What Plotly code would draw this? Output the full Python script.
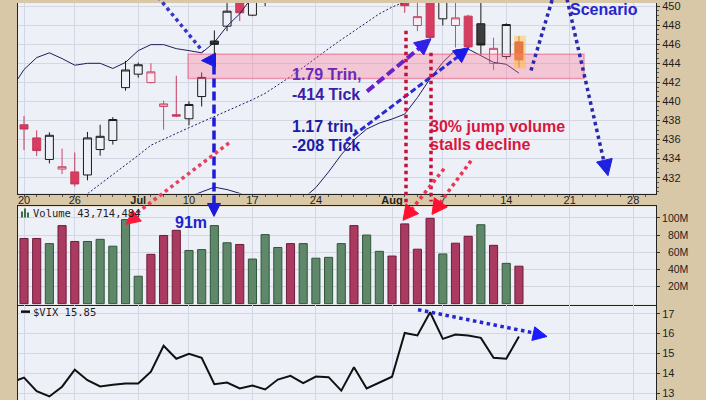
import math
import pandas as pd
import plotly.graph_objects as go
from plotly.subplots import make_subplots

# ---------------------------------------------------------------- sessions
HOLIDAYS = {"2023-06-19", "2023-07-04"}
sessions = [d.strftime("%Y-%m-%d") for d in pd.bdate_range("2023-06-16", "2023-09-01")
            if d.strftime("%Y-%m-%d") not in HOLIDAYS]
pos = {d: i for i, d in enumerate(sessions)}
last_day = "2023-08-15"
band_dates = sessions[: pos[last_day] + 1]      # Jun 16 .. Aug 15
candle_dates = band_dates[1:]                   # Jun 20 .. Aug 15

tick_dates = ["2023-06-20", "2023-06-26", "2023-07-03", "2023-07-10", "2023-07-17",
              "2023-07-24", "2023-08-01", "2023-08-07", "2023-08-14", "2023-08-21",
              "2023-08-28"]
tick_text = ["20", "26", "<b>Jul</b>", "10", "17", "24", "<b>Aug</b>", "7", "14", "21", "28"]

# ---------------------------------------------------------------- SPY daily
close_jun16 = 439.46
spy_open = [437.55, 436.17, 433.91, 432.90, 432.60, 432.28, 434.95, 435.90, 441.45, 442.86,
            441.97, 439.47, 438.60, 438.18, 440.51, 446.34, 447.90, 451.00, 449.05, 452.30,
            453.80, 454.50, 453.20, 453.40, 454.00, 455.00, 457.20, 454.20, 456.80, 457.40,
            453.20, 447.97, 451.20, 448.67, 447.97, 448.95, 448.15, 443.98, 444.71, 446.24]
spy_high = [438.46, 436.97, 436.76, 435.05, 434.64, 436.80, 437.55, 438.35, 444.26, 444.08,
            444.00, 440.09, 442.70, 440.00, 443.04, 447.45, 450.50, 451.60, 452.60, 454.20,
            455.60, 455.00, 454.50, 455.00, 455.80, 456.20, 457.80, 457.00, 458.00, 458.10,
            455.00, 450.80, 451.80, 451.40, 450.90, 449.10, 451.00, 446.69, 448.20, 446.86]
spy_low = [434.90, 434.26, 433.49, 432.38, 431.06, 431.72, 434.30, 435.47, 441.13, 442.50,
           441.90, 437.03, 438.35, 437.49, 439.47, 444.78, 447.38, 448.43, 448.95, 450.00,
           452.80, 452.00, 452.20, 452.80, 453.60, 454.40, 451.80, 453.90, 456.40, 455.50,
           449.30, 447.38, 446.60, 447.97, 445.65, 445.65, 444.90, 443.28, 444.43, 443.56]
spy_close = [437.10, 434.84, 436.45, 433.15, 431.34, 436.17, 436.34, 438.10, 443.30, 443.85,
             443.10, 439.74, 438.46, 439.68, 442.52, 445.99, 449.47, 449.30, 452.00, 453.50,
             454.80, 452.90, 453.60, 454.40, 455.20, 455.70, 452.60, 456.60, 457.60, 456.30,
             450.05, 448.90, 446.72, 450.90, 448.77, 445.72, 445.92, 445.57, 448.07, 444.36]

# Bollinger Bands (20, 2.0), Jun 16 .. Aug 15
bb_upper = [441.30, 443.35, 444.60, 445.10, 444.50, 443.80, 444.00, 444.00, 443.46, 444.10,
            445.33, 445.96, 445.96, 445.54, 445.33, 445.10, 446.20, 447.90, 449.20, 451.00,
            452.00, 452.80, 453.50, 454.20, 454.90, 455.50, 456.00, 456.60, 457.20, 457.80,
            458.20, 458.50, 458.70, 458.80, 458.80, 458.70, 458.60, 458.40, 458.20, 458.00,
            457.80]
bb_middle = [425.00, 425.80, 426.60, 427.40, 428.20, 429.30, 430.30, 431.30, 432.30, 433.35,
             434.34, 435.40, 436.06, 436.64, 437.24, 437.83, 438.35, 438.98, 439.60, 440.18,
             440.85, 441.70, 442.60, 443.56, 444.60, 445.54, 446.48, 447.40, 448.35, 449.20,
             449.90, 450.50, 451.00, 451.40, 451.70, 451.90, 452.00, 452.10, 452.10, 452.00,
             451.90]
bb_lower = [428.00, 427.60, 427.20, 426.80, 426.40, 426.20, 426.10, 426.30, 426.60, 427.00,
            427.60, 428.40, 429.10, 429.60, 430.00, 430.50, 431.00, 430.75, 430.35, 429.80,
            429.30, 429.00, 429.20, 429.80, 430.96, 432.60, 434.40, 435.96, 437.10, 437.73,
            438.15, 438.67, 440.40, 442.40, 444.10, 445.40, 445.50, 444.80, 444.10, 443.90,
            442.97]

# volume, millions of shares
volume_m = [76.0, 76.0, 70.0, 91.0, 72.5, 72.5, 75.0, 67.0, 98.0, 32.0,
            57.5, 79.5, 85.5, 62.0, 63.0, 91.0, 71.0, 69.0, 52.0, 80.5,
            65.5, 70.0, 70.0, 53.0, 54.0, 70.0, 91.0, 80.0, 61.0, 55.5,
            93.0, 63.5, 99.5, 58.0, 70.5, 78.5, 92.0, 68.0, 47.0, 43.714484]

# $VIX close, Jun 16 .. Aug 15
vix = [13.54, 13.78, 13.10, 12.83, 13.32, 14.18, 13.65, 13.33, 13.42, 13.48,
       13.48, 14.08, 15.38, 14.73, 14.98, 14.78, 13.45, 13.53, 13.23, 13.38,
       13.18, 13.68, 13.87, 13.50, 13.83, 13.80, 13.12, 14.30, 13.23, 13.52,
       13.82, 16.03, 15.90, 17.07, 15.73, 15.95, 15.90, 15.78, 14.78, 14.73,
       15.85]

price_ticks = [432, 434, 436, 438, 440, 442, 444, 446, 448, 450]
volume_ticks = [20, 40, 60, 80, 100]
vix_ticks = [13, 14, 15, 16, 17]

# ---------------------------------------------------------------- styling
W, H = 706, 400
ML, MR = 18, 50
BEIGE = "#d8c8a8"
PLOT_BG = "#eef0f7"
GRID = "#d3d6e3"
AXIS_LINE = "#222222"
TICK_FONT = dict(family="Liberation Sans", size=11, color="#1e1e1e")
X_RANGE = [0.527, 50.80]

fig = make_subplots(rows=3, cols=1, shared_xaxes=True, vertical_spacing=0)

prev_close = [close_jun16] + spy_close[:-1]
up_day = [c >= p for c, p in zip(spy_close, prev_close)]
cx = [pos[d] for d in candle_dates]
bx = [pos[d] for d in band_dates]


def subset(flag):
    idx = [i for i, u in enumerate(up_day) if u == flag]
    return dict(x=[cx[i] for i in idx],
                open=[spy_open[i] for i in idx], high=[spy_high[i] for i in idx],
                low=[spy_low[i] for i in idx], close=[spy_close[i] for i in idx])


# Bollinger Bands
for values, dash in ((bb_upper, "solid"), (bb_lower, "solid"), (bb_middle, "2px,2px")):
    fig.add_trace(go.Scatter(x=bx, y=values, mode="lines", hoverinfo="skip", showlegend=False,
                             line=dict(color="#1d1d5e", width=1, dash=dash)), row=1, col=1)

# candles: black when the close is above the prior close, red otherwise;
# hollow when close > open, filled when close < open
fig.add_trace(go.Candlestick(**subset(True), whiskerwidth=0, showlegend=False, hoverinfo="skip",
                             increasing=dict(line=dict(color="#1a1a1a", width=1), fillcolor=PLOT_BG),
                             decreasing=dict(line=dict(color="#1a1a1a", width=1), fillcolor="#3d3d3d")),
              row=1, col=1)
fig.add_trace(go.Candlestick(**subset(False), whiskerwidth=0, showlegend=False, hoverinfo="skip",
                             increasing=dict(line=dict(color="#c94a6c", width=1), fillcolor="#f8eef3"),
                             decreasing=dict(line=dict(color="#c23a5c", width=1), fillcolor="#d83c60")),
              row=1, col=1)

# volume
vol_fill = ["#5f8769" if u else "#aa3a60" for u in up_day]
vol_edge = ["#2f5638" if u else "#6e1c3a" for u in up_day]
fig.add_trace(go.Bar(x=cx, y=volume_m, width=0.64, hoverinfo="skip", showlegend=False,
                     marker=dict(color=vol_fill, line=dict(color=vol_edge, width=1))),
              row=2, col=1)

# $VIX
fig.add_trace(go.Scatter(x=bx, y=vix, mode="lines", hoverinfo="skip", showlegend=False,
                         line=dict(color="#111111", width=2)), row=3, col=1)

tickvals = [pos[d] for d in tick_dates]
common_x = dict(range=X_RANGE, tickmode="array", tickvals=tickvals, showgrid=True,
                gridcolor=GRID, gridwidth=1, zeroline=False, linecolor=AXIS_LINE, linewidth=1)
fig.update_layout(
    xaxis=dict(**common_x, ticktext=tick_text, showticklabels=True, ticks="outside", ticklen=2,
               tickcolor="#444", tickfont=TICK_FONT, showline=True, mirror=False,
               ticklabelstandoff=-6, ticklabeloverflow="allow",
               rangeslider=dict(visible=False),
               minor=dict(dtick=1, tick0=0, ticks="outside", ticklen=2, tickcolor="#555",
                          showgrid=False)),
    xaxis2=dict(**common_x, showticklabels=False, ticks="", showline=True, mirror=True),
    xaxis3=dict(**common_x, showticklabels=False, ticks="", showline=False),
    yaxis=dict(domain=[0.52, 1.0], range=[430.33, 450.33], side="right", tickmode="array",
               tickvals=price_ticks, ticktext=[str(v) for v in price_ticks],
               ticks="outside", ticklen=3, tickcolor="#333", tickfont=TICK_FONT,
               ticklabeloverflow="allow",
               showgrid=True, gridcolor=GRID, zeroline=False, showline=True, mirror=True,
               linecolor=AXIS_LINE, linewidth=1,
               minor=dict(dtick=0.5, tick0=0, ticks="outside", ticklen=2, tickcolor="#555",
                          showgrid=False)),
    yaxis2=dict(domain=[0.24, 0.4875], range=[-1.2, 113.3], side="right", tickmode="array",
                tickvals=volume_ticks,
                ticktext=[("\u2007" if v < 100 else "") + f"{v}M" for v in volume_ticks],
                ticks="outside", ticklen=3, tickcolor="#333", tickfont=dict(TICK_FONT, size=10.5),
                showgrid=True, gridcolor=GRID, zeroline=False, showline=True, mirror=True,
                linecolor=AXIS_LINE, linewidth=1),
    yaxis3=dict(domain=[0.0, 0.24], range=[12.65, 17.45], side="right", tickmode="array",
                tickvals=vix_ticks, ticktext=[str(v) for v in vix_ticks],
                ticks="outside", ticklen=3, tickcolor="#333", tickfont=TICK_FONT,
                showgrid=True, gridcolor=GRID, zeroline=False, showline=True, mirror=True,
                linecolor=AXIS_LINE, linewidth=1),
    boxmode="overlay", boxgap=0.37, boxgroupgap=0,
    width=W, height=H, autosize=False,
    margin=dict(l=ML, r=MR, t=0, b=0, pad=0),
    paper_bgcolor=BEIGE, plot_bgcolor=PLOT_BG,
    showlegend=False, hovermode=False,
)

# ---------------------------------------------------------------- markup layer
# The hand-drawn markup is placed in screen pixels (origin top-left of the page).
def fx(x):
    return (x - ML) / (W - ML - MR)


def fy(y):
    return 1 - y / H


shapes, notes = [], []


def rect(x0, y0, x1, y1, fill, edge=None, edge_w=0):
    shapes.append(dict(type="rect", xref="paper", yref="paper", layer="above",
                       x0=fx(x0), y0=fy(y0), x1=fx(x1), y1=fy(y1), fillcolor=fill,
                       line=dict(color=edge or fill, width=edge_w)))


def seg(x0, y0, x1, y1, color, width, dash):
    shapes.append(dict(type="line", xref="paper", yref="paper", layer="above",
                       x0=fx(x0), y0=fy(y0), x1=fx(x1), y1=fy(y1),
                       line=dict(color=color, width=width, dash=dash)))


def tri(points, color):
    path = "M " + " L ".join(f"{fx(a):.5f},{fy(b):.5f}" for a, b in points) + " Z"
    shapes.append(dict(type="path", xref="paper", yref="paper", layer="above", path=path,
                       fillcolor=color, line=dict(color=color, width=1)))


def head(tip, frm, length, half, color):
    (tx, ty), (sx, sy) = tip, frm
    n = math.hypot(tx - sx, ty - sy)
    ux, uy = (tx - sx) / n, (ty - sy) / n
    bx_, by_ = tx - ux * length, ty - uy * length
    tri([(tx, ty), (bx_ - uy * half, by_ + ux * half), (bx_ + uy * half, by_ - ux * half)], color)


def text(x, y, s, color, size=16, family="Liberation Sans", bold=True):
    notes.append(dict(xref="paper", yref="paper", x=fx(x), y=fy(y), text=s, showarrow=False,
                      xanchor="left", yanchor="middle", borderpad=0,
                      font=dict(family=family, size=size, color=color,
                                weight="bold" if bold else "normal")))


# support zone and the latest session
rect(188, 51.7, 584, 76, "rgba(255,110,145,0.32)", "rgba(235,90,125,0.55)", 1.5)
rect(514, 33, 526, 66, "rgba(255,190,40,0.45)")

# breakout arrow and the 91m volume day
seg(158, -6, 203, 49, "#3434c6", 3.5, "dot")
tri([(201.5, 58), (215.5, 50.5), (215.5, 64.5)], "#1a1ae0")
seg(214, 63, 214, 203, "#1c1cd8", 3.5, "9px,4px")
head((214, 215), (214, 100), 13, 6.5, "#1c1cd8")
text(174, 221.5, "91m", "#2222cc")

# high-volume day of early July
seg(229, 141, 135, 213, "#e8405e", 3.5, "dot")
head((126, 223), (229, 141), 14, 7, "#ff1a3a")

# Trin / Tick readings
seg(367, 89, 420, 45, "#6a22c8", 4, "9px,4px")
head((431, 36), (367, 89), 16, 8, "#3020e8")
seg(346, 139, 458, 54, "#2a2ad0", 3, "6px,3px")
head((469, 45), (346, 139), 15, 7.5, "#1a1ae8")
text(291, 72, "1.79 Trin,", "#6a2ab8")
text(291, 92, "-414 Tick", "#3a1ea8")
text(291, 124, "1.17 trin,", "#1c1ca6")
text(291, 144, "-208 Tick", "#1c1ca6")

# early-August volume spikes
seg(406, 28, 406, 203, "#c81040", 3.5, "dot")
seg(431, 50, 431, 200, "#c81040", 3.5, "dot")
seg(444, 167, 410, 210, "#ee3355", 3.5, "dot")
head((403, 219), (444, 167), 15, 8, "#ff1030")
seg(471, 159, 438, 204, "#ee3355", 3.5, "dot")
head((432, 213), (471, 159), 15, 8, "#ff1030")
text(429, 124, "30% jump volume", "#d8163e")
text(429, 143, "stalls decline", "#d8163e")

# scenario path
seg(531, 68, 553, -6, "#2a2aa8", 3.5, "dot")
seg(567, -4, 604, 160, "#2a2aa8", 3.5, "dot")
head((608, 174), (567, -4), 16, 8, "#1e22e0")
text(569, 6.5, "Scenario", "#2626cc")

# VIX trend
seg(418, 309, 537, 333, "#2525d5", 3.5, "dot")
head((547, 336), (418, 309), 14, 7, "#1a1aff")

# panel legends
for x0, y0, hgt in ((21, 210, 6), (24, 207, 9), (27, 211, 5)):
    rect(x0, y0, x0 + 2, y0 + hgt, "#3c6e48")
text(32, 212, f"Volume {round(volume_m[-1] * 1e6):,}", "#1e1e1e", size=10.5,
     family="DejaVu Sans Mono", bold=False)
seg(21, 311, 30, 311, "#111111", 2.5, "solid")
text(32, 311, f"$VIX {vix[-1]:.2f}", "#1e1e1e", size=10.5, family="DejaVu Sans Mono", bold=False)

fig.update_layout(shapes=shapes, annotations=notes)
fig.write_html("out.html")
